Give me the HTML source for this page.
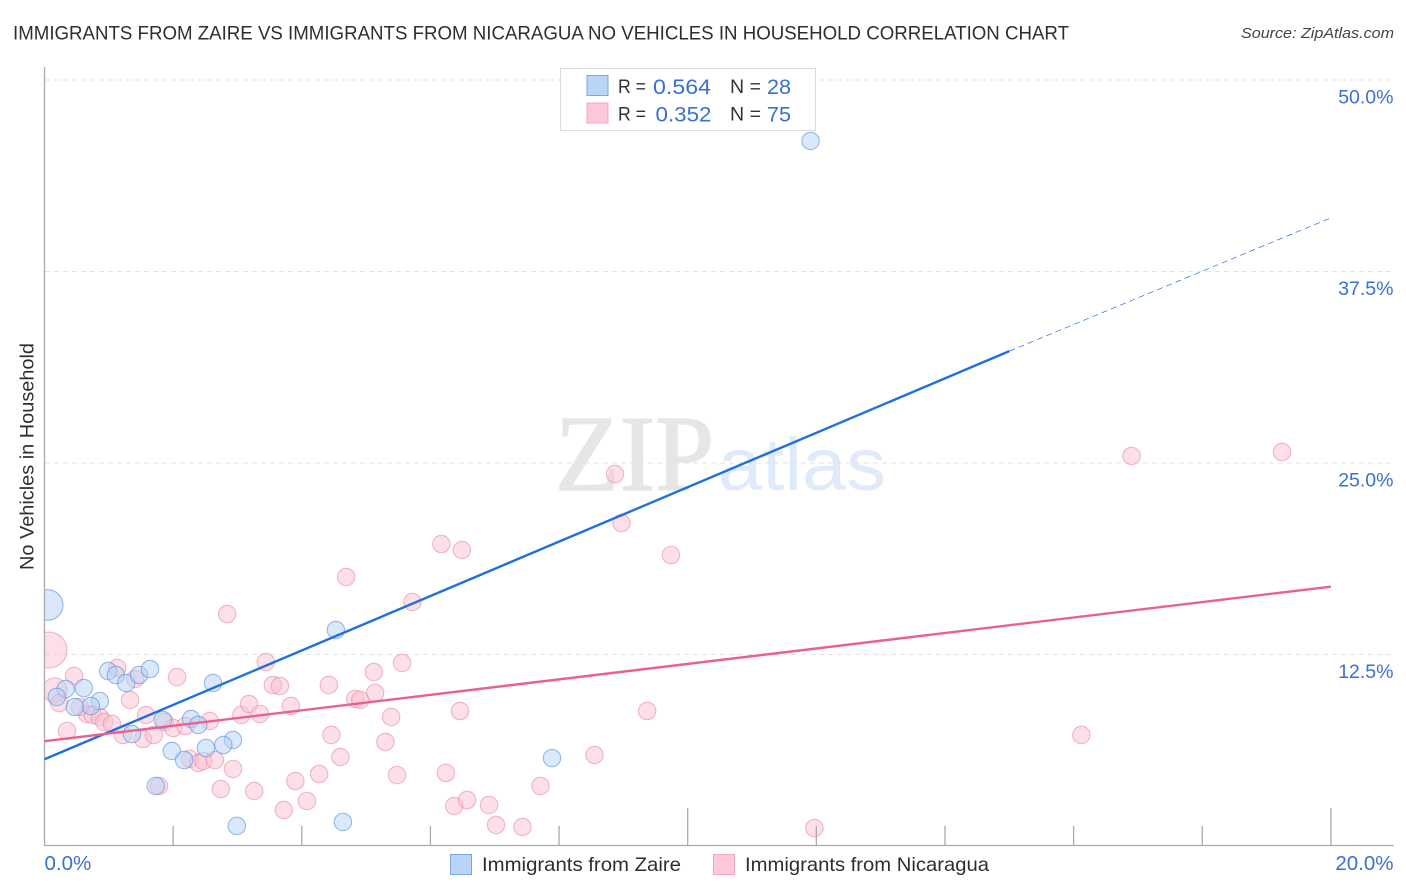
<!DOCTYPE html>
<html lang="en">
<head>
<meta charset="utf-8">
<title>Immigrants from Zaire vs Immigrants from Nicaragua No Vehicles in Household Correlation Chart</title>
<style>
  html, body { margin: 0; padding: 0; background: #fff; }
  body { width: 1406px; height: 892px; overflow: hidden; }
  svg { display: block; font-family: "Liberation Sans", sans-serif; }
</style>
</head>
<body>
<svg id="chart" width="1406" height="892" viewBox="0 0 1406 892" xmlns="http://www.w3.org/2000/svg">
  <rect width="1406" height="892" fill="#fff"/>
  <text x="13" y="39.5" font-size="19.5" fill="#2e2e2e" textLength="1056" lengthAdjust="spacingAndGlyphs">IMMIGRANTS FROM ZAIRE VS IMMIGRANTS FROM NICARAGUA NO VEHICLES IN HOUSEHOLD CORRELATION CHART</text>
  <text x="1241" y="38" font-size="15" font-style="italic" fill="#444" textLength="153" lengthAdjust="spacingAndGlyphs">Source: ZipAtlas.com</text>

  <g>
    <text x="555" y="490" font-family="'Liberation Serif', serif" font-size="108" fill="#e6e6e6" stroke="#e6e6e6" stroke-width="1.5" textLength="159" lengthAdjust="spacingAndGlyphs">ZIP</text>
    <text x="718" y="490" font-size="74" fill="#dfeafa" textLength="168" lengthAdjust="spacingAndGlyphs">atlas</text>
  </g>

  <g id="grid"></g>
  <g id="pink-points"></g>
  <g id="blue-points"></g>
  <rect x="0" y="580" width="44.5" height="130" fill="#fff"/>
  <g id="axes"></g>
  <g id="trend-lines"></g>
  <g id="tick-labels"></g>

  <text transform="translate(33.5 456.5) rotate(-90)" font-size="19" fill="#2e2e2e" text-anchor="middle" textLength="227" lengthAdjust="spacingAndGlyphs">No Vehicles in Household</text>

  <g>
    <rect x="560.5" y="68.5" width="255" height="62" fill="#fff" stroke="#dcdcdc" stroke-width="1"/>
    <rect x="587" y="75.5" width="21" height="20" fill="#b9d4f7" stroke="#7ba6e3" stroke-width="1"/>
    <rect x="587" y="103" width="21" height="20" fill="#fdc9da" stroke="#f2a6bf" stroke-width="1"/>
    <text x="618" y="93" font-size="19.5" fill="#333" textLength="28" lengthAdjust="spacingAndGlyphs">R =</text>
    <text x="653" y="94" font-size="21.5" fill="#3b6fd4" textLength="58" lengthAdjust="spacingAndGlyphs">0.564</text>
    <text x="730" y="93" font-size="19.5" fill="#333" textLength="31" lengthAdjust="spacingAndGlyphs">N =</text>
    <text x="767" y="94" font-size="21.5" fill="#3b6fd4" textLength="24" lengthAdjust="spacingAndGlyphs">28</text>
    <text x="618" y="120.5" font-size="19.5" fill="#333" textLength="28" lengthAdjust="spacingAndGlyphs">R =</text>
    <text x="655.5" y="121.5" font-size="21.5" fill="#3b6fd4" textLength="56" lengthAdjust="spacingAndGlyphs">0.352</text>
    <text x="730" y="120.5" font-size="19.5" fill="#333" textLength="31" lengthAdjust="spacingAndGlyphs">N =</text>
    <text x="767" y="121.5" font-size="21.5" fill="#3b6fd4" textLength="24" lengthAdjust="spacingAndGlyphs">75</text>
  </g>

  <g>
    <rect x="450.5" y="854.5" width="21" height="20" fill="#b9d4f7" stroke="#7ba6e3" stroke-width="1"/>
    <text x="482" y="871" font-size="19.5" fill="#2e2e2e" textLength="199" lengthAdjust="spacingAndGlyphs">Immigrants from Zaire</text>
    <rect x="713.5" y="854.5" width="21" height="20" fill="#fdc9da" stroke="#f2a6bf" stroke-width="1"/>
    <text x="745" y="871" font-size="19.5" fill="#2e2e2e" textLength="244" lengthAdjust="spacingAndGlyphs">Immigrants from Nicaragua</text>
  </g>
</svg>
<script>
const yTickValues = [12.5, 25, 37.5, 50];
const yTickLabels = ['12.5%', '25.0%', '37.5%', '50.0%'];
const xTickValues = [2, 4, 6, 8, 10, 12, 14, 16, 18, 20];
const xMajorTicks = [10, 20];
const xEdgeValues = [0, 20];
const xEdgeLabels = ['0.0%', '20.0%'];

const zaireX = [0.99,1.11,1.27,1.47,1.64,0.33,0.61,0.19,0.86,0.72,0.47,2.62,1.84,2.28,2.39,1.36,2.93,2.78,2.51,1.98,2.17,1.73,2.99,4.64,4.53,0.05,11.91,7.89];
const zaireY = [11.42,11.16,10.64,11.16,11.55,10.25,10.31,9.73,9.46,9.14,9.07,10.64,8.22,8.29,7.90,7.31,6.92,6.59,6.40,6.20,5.61,3.92,1.31,1.57,14.10,15.73,46.02,5.74];
const zaireWeight = [1,1,1,1,1,1,1,1,1,1,1,1,1,1,1,1,1,1,1,1,1,1,1,1,1,3.1,1,1];

const nicaraguaX = [0.07,0.16,0.23,0.46,1.13,1.41,2.06,2.84,3.44,3.55,3.66,4.42,1.33,0.66,0.75,0.86,0.93,1.05,1.58,1.87,2.00,2.19,2.57,3.06,3.18,3.35,3.83,0.35,1.22,1.53,1.70,4.46,4.60,2.26,2.39,2.47,2.65,2.93,2.74,3.26,3.90,4.27,4.08,3.72,1.78,5.72,5.56,5.12,5.14,4.83,4.91,5.39,5.30,5.48,6.24,6.37,6.57,6.91,7.02,7.43,7.71,6.46,8.55,9.37,4.69,6.17,6.49,8.87,8.97,9.74,16.90,19.24,16.12,11.97,0.55];
const nicaraguaY = [12.79,10.18,9.33,11.10,11.62,10.90,11.03,15.14,12.01,10.51,10.44,10.51,9.53,8.62,8.55,8.42,8.09,7.96,8.55,8.09,7.70,7.83,8.16,8.55,9.27,8.62,9.14,7.51,7.25,6.98,7.25,7.25,5.81,5.68,5.42,5.55,5.61,5.03,3.72,3.59,4.24,4.70,2.94,2.35,3.92,15.93,11.95,11.36,9.99,9.60,9.53,8.42,6.79,4.63,4.77,2.61,3.00,2.68,1.37,1.24,3.92,8.81,5.94,8.81,17.56,19.71,19.32,24.28,21.08,18.99,25.46,25.72,7.25,1.17,9.07];
const nicaraguaWeight = [4.28,2,1,1,1,1,1,1,1,1,1,1,1,1,1,1,1,1,1,1,1,1,1,1,1,1,1,1,1,1,1,1,1,1,1,1,1,1,1,1,1,1,1,1,1,1,1,1,1,1,1,1,1,1,1,1,1,1,1,1,1,1,1,1,1,1,1,1,1,1,1,1,1,1,1];

const zaireTrendX = [0, 15, 20];
const zaireTrendY = [5.66, 32.3, 41.0];
const nicaraguaTrendX = [0, 20];
const nicaraguaTrendY = [6.84, 16.93];

const SVG_NS = 'http://www.w3.org/2000/svg';
const xScale = function (v) { return 44.5 + v * 64.32; };
const yScale = function (v) { return 846 - v * 15.32; };
const pointRadius = function (w) { return 8.7 * Math.sqrt(w); };

function make(tag, parent, props) {
  const el = document.createElementNS(SVG_NS, tag);
  Object.keys(props).forEach(function (k) { el.setAttribute(k, props[k]); });
  parent.appendChild(el);
  return el;
}

const gridGroup = document.getElementById('grid');


yTickValues.forEach(function (v) {
  const line = make('line', gridGroup, { x1: 45, x2: 1394, y1: yScale(v), y2: yScale(v), stroke: '#e3e3e3', 'stroke-width': 1, 'stroke-dasharray': '5 4' });
  
  
});

const axesGroup = document.getElementById('axes');


const yAxisLine = make('line', axesGroup, { x1: 44.5, x2: 44.5, y1: 67, y2: 846, stroke: '#aaaaaa', 'stroke-width': 1.3 });


const xAxisLine = make('line', axesGroup, { x1: 44, x2: 1394, y1: 845.5, y2: 845.5, stroke: '#aaaaaa', 'stroke-width': 1.3 });


xTickValues.forEach(function (v) {
  const top = xMajorTicks.indexOf(v) >= 0 ? 808 : 826;
  const tick = make('line', axesGroup, { x1: xScale(v), x2: xScale(v), y1: top, y2: 846, stroke: '#aaaaaa', 'stroke-width': 1.3 });
  
  
});

function drawPoints(groupId, xs, ys, weights, fill, stroke, name) {
  const group = document.getElementById(groupId);
  
  
  xs.forEach(function (xv, i) {
    const c = make('circle', group, { cx: xScale(xv), cy: yScale(ys[i]), r: pointRadius(weights[i]), fill: fill, 'fill-opacity': 0.5, stroke: stroke, 'stroke-opacity': 0.6, 'stroke-width': 1.1 });
    
    
  });
}
drawPoints('pink-points', nicaraguaX, nicaraguaY, nicaraguaWeight, '#fbbfd0', '#e88aa8', 'nicaragua-point');
drawPoints('blue-points', zaireX, zaireY, zaireWeight, '#b4d2f5', '#5b8fd9', 'zaire-point');

const trendGroup = document.getElementById('trend-lines');


const zaireSolid = make('line', trendGroup, { x1: xScale(zaireTrendX[0]), y1: yScale(zaireTrendY[0]), x2: xScale(zaireTrendX[1]), y2: yScale(zaireTrendY[1]), stroke: '#1f6fdc', 'stroke-width': 2.4 });


const zaireDashed = make('line', trendGroup, { x1: xScale(zaireTrendX[1]), y1: yScale(zaireTrendY[1]), x2: xScale(zaireTrendX[2]), y2: yScale(zaireTrendY[2]), stroke: '#1f6fdc', 'stroke-width': 0.7, 'stroke-dasharray': '6 4' });


const nicaraguaLine = make('line', trendGroup, { x1: xScale(nicaraguaTrendX[0]), y1: yScale(nicaraguaTrendY[0]), x2: xScale(nicaraguaTrendX[1]), y2: yScale(nicaraguaTrendY[1]), stroke: '#e9628f', 'stroke-width': 2.4 });



const labelGroup = document.getElementById('tick-labels');


yTickValues.forEach(function (v, i) {
  const t = make('text', labelGroup, { x: 1393.5, y: yScale(v) + 23.5, 'font-size': 19.5, fill: '#3b6fd4', 'text-anchor': 'end' });
  t.textContent = yTickLabels[i];
  
  
});
xEdgeValues.forEach(function (v, i) {
  const t = make('text', labelGroup, { x: i === 0 ? xScale(v) : 1393.5, y: 870, 'font-size': 20.5, fill: '#3b6fd4', 'text-anchor': i === 0 ? 'start' : 'end' });
  t.textContent = xEdgeLabels[i];
  
  
});
</script>
</body>
</html>
